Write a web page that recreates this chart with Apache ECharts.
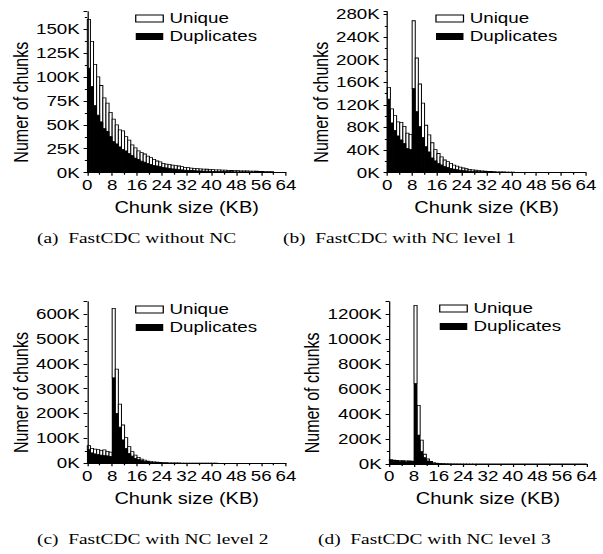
<!DOCTYPE html>
<html><head><meta charset="utf-8">
<script src="https://cdn.jsdelivr.net/npm/echarts@6/dist/echarts.min.js"></script>
<style>
html,body{margin:0;padding:0;background:#fff;overflow:hidden;}
#wrap{width:603px;height:554px;overflow:hidden;}
#chart{width:482px;height:554px;transform:scaleX(1.251);transform-origin:0 0;}
</style></head><body>
<div id="wrap"><div id="chart"></div></div>
<script>
// Chunk-size bins (KB), 1 KB each
const bins = ['0','1','2','3','4','5','6','7','8','9','10','11','12','13','14','15',
  '16','17','18','19','20','21','22','23','24','25','26','27','28','29','30','31',
  '32','33','34','35','36','37','38','39','40','41','42','43','44','45','46','47',
  '48','49','50','51','52','53','54','55','56','57','58','59','60','61','62','63'];
const xTicks = [0, 8, 16, 24, 32, 40, 48, 56, 64];
const yTicksA = [0, 25, 50, 75, 100, 125, 150];
const yTicksB = [0, 40, 80, 120, 160, 200, 240, 280];
const yTicksC = [0, 100, 200, 300, 400, 500, 600];
const yTicksD = [0, 200, 400, 600, 800, 1000, 1200];
const captions = ['(a)  FastCDC without NC', '(b)  FastCDC with NC level 1',
  '(c)  FastCDC with NC level 2', '(d)  FastCDC with NC level 3'];

// Number of chunks, in thousands (K)
const dupA = [109,90,70,60,53,46,43,37.7,32.4,30, 27,24.4,22.7,20,18,15.3,14,12,11,9.8,
  8.7,7.7,7,6.3,5.6,5,4.5,4,3.6,3.3, 3,2.7,2.5,2.3,2.1,1.9,1.8,1.7,1.6,1.5,
  1.4,1.3,1.2,1.1,1.1,1,1,0.9,0.9,0.8, 0.8,0.7,0.7,0.6,0.6,0.5,0.5,0.5,0.4,0.4, 0,0,0,0];
const uniA = [51,47,43,40,38,32,29.5,25.3,23.6,20, 17.6,19.2,15,14,11,10.7,8.7,9,8.5,7.6,
  7,6.3,5.2,4.9,4.2,4,4.2,4,3.7,3.7, 3.3,2.9,2.7,2.5,2.4,2.3,2.2,2.1,2,1.9,
  1.8,1.7,1.7,1.6,1.5,1.4,1.3,1.3,1.2,1.2, 1.1,1.1,1,1,0.9,0.9,0.8,0.7,0.7,0.6, 0,0,0,0];

const dupB = [130,88,75,65,58,52,43,41, 149,108,81.5,62.6,46,36.6,26,21,
  16.5,13.6,11.2,9.5,7.7,6.5,5.3,4.5, 3.8,3.2,2.7,2.3,2,1.7,1.5,1.3,
  1.1,1,0.9,0.8,0.7,0.6,0.5,0.45, 0.4,0.35,0.3,0.25,0.25,0.2,0.2,0.15,
  0.15,0.1,0.1,0.1,0.1,0.05,0.05,0.05, 0,0,0,0,0,0,0,0];
const uniB = [21,25,26,25,31,30,27,27, 120,95,75.5,60.4,38,30.4,27,20,
  17.5,14.4,11.3,10,8.9,7,6.2,5.3, 4.5,3.8,3.3,2.7,2.3,2,1.7,1.5,
  1.3,1.1,0.9,0.8,0.7,0.6,0.5,0.45, 0.4,0.35,0.3,0.25,0.25,0.2,0.2,0.15,
  0.15,0.2,0.1,0.1,0.1,0.15,0.05,0.05, 0,0,0,0,0,0,0,0];

const dupC = [55,42,38,36,33,31,30,28, 344,201,145,94,60,40,29,20,
  15,11,8,6,4.5,3.5,2.8,2.2, 1.8,1.5,1.2,1,0.8,0.7,0.6,0.5,
  0.4,0.35,0.3,0.25,0.2,0.2,0.15,0.1, 0.1,0.1,0.05,0.05,0,0,0,0,
  0,0,0,0,0,0,0,0, 0,0,0,0,0,0,0,0];
const uniC = [16,18,19,19,19,23,18,17, 279,178,93,60,43,27,18,13,
  9,6,5,3,2.5,2,1.7,1.4, 1.2,1,0.8,0.7,0.6,0.5,0.4,0.3,
  0.3,0.25,0.2,0.15,0.15,0.1,0.1,0.1, 0.1,0.05,0.05,0.05,0,0,0,0,
  0,0,0,0,0,0,0,0, 0,0,0,0,0,0,0,0];

const dupD = [28,22,20,19,18,17,16,15, 646,232,99,50,24,12,6,3.5,
  2,1.5,1,0.8,0.5,0.4,0.3,0.2, 0.2,0.1,0.1,0.1,0,0,0,0,
  0,0,0,0,0,0,0,0, 0,0,0,0,0,0,0,0, 0,0,0,0,0,0,0,0, 0,0,0,0,0,0,0,0];
const uniD = [7,8,8,8,8,8,8,7, 624,238,93,28,16,8,4,2.5,
  2,1.5,1,0.7,0.5,0.4,0.3,0.2, 0.2,0.1,0.1,0.1,0,0,0,0,
  0,0,0,0,0,0,0,0, 0,0,0,0,0,0,0,0, 0,0,0,0,0,0,0,0, 0,0,0,0,0,0,0,0];

const SANS = '"Liberation Sans", Arial, sans-serif';
const panels = [
  {grid:{left:69.8, top:11.7, width:158.8, height:161}, yTicks:yTicksA, yMax:168, dup:dupA, uni:uniA, legend:{left:103, top:6}},
  {grid:{left:309.6, top:11.7, width:158.8, height:161}, yTicks:yTicksB, yMax:285, dup:dupB, uni:uniB, legend:{left:343, top:6}},
  {grid:{left:69.8, top:301.7, width:158.8, height:161.6}, yTicks:yTicksC, yMax:650, dup:dupC, uni:uniC, legend:{left:103, top:297}},
  {grid:{left:311.2, top:301.7, width:157.8, height:162.3}, yTicks:yTicksD, yMax:1300, dup:dupD, uni:uniD, legend:{left:346, top:296}}
];

function renderDup(params, api) {
  const i = api.value(0), d = api.value(1);
  const top = api.coord([i, d]), base = api.coord([i, 0]);
  const w = api.size([1, 0])[0];
  return {type:'rect', shape:{x: top[0] - w / 2 - 0.3, y: top[1], width: w + 0.6, height: base[1] - top[1]},
    style:{fill:'#000'}};
}
function renderUni(params, api) {
  const i = api.value(0), d = api.value(1), u = api.value(2);
  const lo = api.coord([i, d]), hi = api.coord([i, d + u]);
  const w = api.size([1, 0])[0];
  return {type:'rect', shape:{x: hi[0] - w / 2, y: hi[1], width: w, height: lo[1] - hi[1]},
    style:{fill:'#fff', stroke:'#000', lineWidth:0.8}};
}

const option = {animation:false, backgroundColor:'#fff', grid:[], xAxis:[], yAxis:[], series:[], legend:[], graphic:[]};
const axisLine = {show:true, lineStyle:{color:'#000', width:1}};
panels.forEach((p, i) => {
  option.grid.push(Object.assign({containLabel:false}, p.grid));
  option.xAxis.push({type:'category', gridIndex:i, data:bins, show:false, boundaryGap:true});
  option.xAxis.push({type:'value', gridIndex:i, position:'bottom', min:xTicks[0], max:xTicks[xTicks.length-1],
    interval:xTicks[1]-xTicks[0], axisLine:axisLine, z:5,
    axisTick:{show:true, inside:false, length:3, lineStyle:{color:'#000'}},
    minorTick:{show:true, splitNumber:2, length:2, lineStyle:{color:'#000'}},
    splitLine:{show:false},
    axisLabel:{color:'#000', fontSize:15, fontFamily:SANS, margin:5},
    name:'Chunk size (KB)', nameLocation:'middle', nameGap:27,
    nameTextStyle:{color:'#000', fontSize:16, fontFamily:SANS}});
  option.yAxis.push({type:'value', gridIndex:i, min:p.yTicks[0], max:p.yMax, interval:p.yTicks[1]-p.yTicks[0],
    axisLine:axisLine, z:5,
    axisTick:{show:true, inside:false, length:3, lineStyle:{color:'#000'}},
    minorTick:{show:true, splitNumber:2, length:2, lineStyle:{color:'#000'}},
    splitLine:{show:false},
    axisLabel:{color:'#000', fontSize:15, fontFamily:SANS, margin:6, showMaxLabel:false,
      formatter: v => String(v) + 'K'},
    name:'Numer of chunks', nameLocation:'middle', nameGap:45,
    nameTextStyle:{color:'#000', fontSize:16, fontFamily:SANS, padding:[0,20,0,0]}});
  const table = bins.map((b, k) => [k, p.dup[k], p.uni[k]]);
  option.series.push({type:'custom', name:'Duplicates', xAxisIndex:2*i, yAxisIndex:i,
    data:table, encode:{x:0, y:1}, renderItem:renderDup, itemStyle:{color:'#000'}, z:2});
  option.series.push({type:'custom', name:'Unique', xAxisIndex:2*i, yAxisIndex:i,
    data:table, encode:{x:0, y:[1, 2]}, renderItem:renderUni,
    itemStyle:{color:'#fff', borderColor:'#000', borderWidth:1}, z:1});
  option.legend.push({orient:'vertical', left:p.legend.left, top:p.legend.top, itemWidth:22, itemHeight:7, itemGap:3,
    textStyle:{color:'#000', fontSize:15, fontFamily:SANS}, selectedMode:false,
    data:[{name:'Unique', icon:'rect', itemStyle:{color:'#fff', borderColor:'#000', borderWidth:1}},
          {name:'Duplicates', icon:'rect', itemStyle:{color:'#000', borderWidth:0}}]});
});
const capPos = [[29.6, 237.5], [226.2, 237.5], [29.6, 539], [254.2, 539]];
captions.forEach((c, i) => {
  option.graphic.push({type:'text', x:capPos[i][0], y:capPos[i][1],
    style:{text:c, fill:'#000', font:'15.5px "Liberation Serif", "Times New Roman", serif', verticalAlign:'middle'}});
});
const chart = echarts.init(document.getElementById('chart'), null, {renderer:'svg'});
chart.setOption(option);
</script>
</body></html>
